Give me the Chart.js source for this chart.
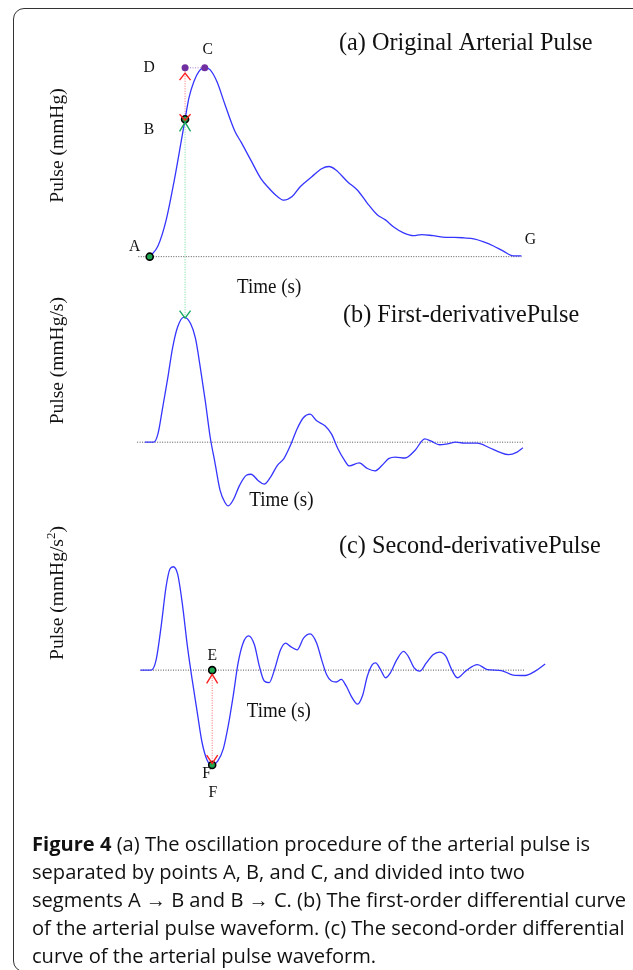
<!DOCTYPE html>
<html>
<head>
<meta charset="utf-8">
<script src="https://cdn.jsdelivr.net/npm/chart.js@4.4.1/dist/chart.umd.min.js"></script>
<style>
  html, body { margin: 0; padding: 0; background: #fff; }
  body { width: 633px; height: 970px; position: relative; overflow: hidden; }
  #frame { position: absolute; left: 13px; top: 8px; width: 660px; height: 962px;
           border: 1.5px solid #333; border-radius: 11px; }
  #plot { position: absolute; left: 0; top: 0; }
  #caption { position: absolute; left: 32px; top: 830px; font-family: "Open Sans", sans-serif;
             font-size: 20.1px; line-height: 28px; color: #111; white-space: nowrap; font-weight: 500; }
  #caption b { font-weight: 700; }
</style>
</head>
<body>
<div id="frame"></div>
<canvas id="plot" width="633" height="970"></canvas>
<div id="caption">
  <b>Figure 4</b> (a) The oscillation procedure of the arterial pulse is<br>
  separated by points A, B, and C, and divided into two<br>
  segments A → B and B → C. (b) The first-order differential curve<br>
  of the arterial pulse waveform. (c) The second-order differential<br>
  curve of the arterial pulse waveform.
</div>
<script>
// time in ms from point A
const timeA = [0, 21, 42, 62.5, 79, 90, 100, 112.5, 125, 140, 154, 171, 191.5, 216.5, 233, 258, 283, 304, 325, 341.5,
  362.5, 383, 412.5, 437.5, 456, 473, 504, 529, 554, 579, 600, 621, 646, 671, 691.5, 721, 754, 775, 800, 825,
  850, 875, 900, 925, 946];
const pulseA = [70, 72.7, 79.3, 89.3, 98.5, 104.75, 110.2, 114.3, 116.8, 117.8, 117.25, 114.3, 108.5, 101.8, 98.9, 94.3, 89.75, 87.25, 85.2, 84.3,
  85.2, 87.7, 90.2, 92.25, 92.8, 92, 88.9, 86.8, 83.5, 80.6, 79.3, 77.5, 76, 75.3, 75.6, 75.3, 74.9, 74.9, 74.75, 74.5,
  73.75, 72.7, 71.4, 70.2, 70.2];

const timeB = [-12.5, 10, 21, 33, 46, 58, 71, 87.5, 104, 116.5, 129, 141.5, 154, 166.5, 179, 191.5, 200, 212.5, 229, 246,
  258, 275, 291.5, 308, 325, 341.5, 358, 375, 391.5, 408, 425, 446, 462.5, 479, 496, 508, 533, 554, 573, 591.5,
  608, 625, 650, 675, 700, 716.5, 737.5, 758, 779, 800, 833.5, 864.5, 890, 913, 935, 950];
const pulseB = [0, 0, 42, 175, 325, 475, 583, 633, 600, 525, 375, 208, 25, -108, -242, -305, -322, -292, -217, -167,
  -162, -192, -212, -175, -117, -83, -17, 67, 125, 142, 108, 83, 42, -33, -92, -120, -105, -133, -145, -117,
  -83, -75, -80, -42, 17, 5, -13, -8, 0, -5, -5, -28, -50, -63, -50, -28];

const timeC = [-23.5, 4, 16.5, 29, 41.5, 51.5, 60, 71, 83, 96, 108, 121, 133, 146, 158, 173, 187.5, 200, 212.5, 225,
  237.5, 251.5, 266.5, 279, 291.5, 304, 316.5, 333, 346, 358, 375, 391.5, 408, 425, 437.5, 450, 462.5, 475, 487.5, 500,
  512.5, 529, 541.5, 554, 566.5, 575, 587.5, 600, 612.5, 629, 646, 658, 673, 687.5, 704, 721, 737.5, 754, 766.5, 783,
  804, 834, 859.5, 895, 925, 955.5, 981, 1006.5];
const pulseC = [0, 0, 106, 440, 840, 1023, 1046, 973, 673, 240, -94, -427, -727, -910, -960, -920, -794, -560, -260, 73,
  273, 346, 256, 40, -110, -127, -10, 206, 273, 240, 206, 323, 366, 273, 106, -44, -110, -120, -94, -160,
  -260, -344, -260, -60, 56, 73, 6, -77, -27, 106, 190, 140, 23, -10, 73, 156, 183, 140, 23, -77,
  -10, 56, 6, -4, -50, -54, -10, 63];

// dotted rest lines: [start, end] time, level
const baseTimeA = [-29, 946], baseLevelA = 70;
const baseTimeB = [-32, 950], baseLevelB = 0;
const baseTimeC = [-23.5, 955], baseLevelC = 0;

// marked points
const ptA = [0, 70], ptB = [90, 104.75], ptC = [140, 117.8], ptD = [90, 117.8];
const ptG = [946, 70.2];
const peakB = [87.5, 633];
const ptE = [159, 0], ptF = [159, -960];

const pairs = (xs, ys) => xs.map((x, i) => ({ x: x, y: ys[i] }));
const BLUE = "#3535ff";

function curve(xs, ys, axis) {
  return { data: pairs(xs, ys), yAxisID: axis, borderColor: BLUE, borderWidth: 1.3,
    pointRadius: 0, cubicInterpolationMode: "monotone", order: 2 };
}
function baseline(span, level, axis) {
  return { data: span.map((x) => ({ x: x, y: level })), yAxisID: axis, borderColor: "#555",
    borderWidth: 1, borderDash: [1, 1.5], pointRadius: 0, order: 3 };
}
function dots(pts, axis, fill, border) {
  return { data: pts.map((p) => ({ x: p[0], y: p[1] })), yAxisID: axis, showLine: false,
    pointRadius: 3.5, pointBackgroundColor: fill, pointBorderColor: border,
    pointBorderWidth: border === fill ? 0 : 1.6, order: 0 };
}

function serif(ctx, s, x, y, size, align) {
  ctx.save();
  ctx.translate(x, y);
  ctx.scale(0.95, 1);
  ctx.font = size + 'px "Liberation Serif"';
  ctx.textAlign = align || "left";
  ctx.textBaseline = "alphabetic";
  ctx.fillStyle = "#111";
  ctx.fillText(s, 0, 0);
  ctx.restore();
}

function vTitle(ctx, parts, x, cy) {
  ctx.save();
  ctx.translate(x, cy);
  ctx.rotate(-Math.PI / 2);
  ctx.fillStyle = "#111";
  let total = 0;
  parts.forEach((p) => { ctx.font = p.size + 'px "Liberation Serif"'; total += ctx.measureText(p.t).width; });
  let pos = -total / 2;
  parts.forEach((p) => {
    ctx.font = p.size + 'px "Liberation Serif"';
    ctx.fillText(p.t, pos, p.rise || 0);
    pos += ctx.measureText(p.t).width;
  });
  ctx.restore();
}

function dotted(ctx, x1, y1, x2, y2, color, w) {
  ctx.save();
  ctx.strokeStyle = color;
  ctx.lineWidth = w;
  ctx.setLineDash([1, 1.5]);
  ctx.beginPath();
  ctx.moveTo(x1, y1);
  ctx.lineTo(x2, y2);
  ctx.stroke();
  ctx.restore();
}

function arrow(ctx, x, y, dy, color) {
  ctx.save();
  ctx.strokeStyle = color;
  ctx.lineWidth = 1.4;
  ctx.beginPath();
  ctx.moveTo(x - 5.5, y + dy);
  ctx.lineTo(x, y);
  ctx.lineTo(x + 5.5, y + dy);
  ctx.stroke();
  ctx.restore();
}

const annotations = {
  id: "annotations",
  beforeDatasetsDraw(chart) {
    const ctx = chart.ctx, s = chart.scales;
    const X = (v) => s.x.getPixelForValue(v);
    dotted(ctx, X(ptB[0]), s.ya.getPixelForValue(ptB[1]), X(ptB[0]), s.yb.getPixelForValue(peakB[1]), "#7fe0a8", 1.2);
    dotted(ctx, X(ptB[0]), s.ya.getPixelForValue(ptB[1]), X(ptD[0]), s.ya.getPixelForValue(ptD[1]), "#ff6a6a", 1);
    dotted(ctx, X(ptD[0]), s.ya.getPixelForValue(ptD[1]), X(ptC[0]), s.ya.getPixelForValue(ptC[1]), "#c6a6e0", 1.5);
    dotted(ctx, X(ptE[0]), s.yc.getPixelForValue(ptE[1]), X(ptF[0]), s.yc.getPixelForValue(ptF[1]), "#ff6a6a", 1);
  },
  afterDatasetsDraw(chart) {
    const ctx = chart.ctx, s = chart.scales;
    const X = (v) => s.x.getPixelForValue(v);
    const bx = X(ptB[0]), by = s.ya.getPixelForValue(ptB[1]);
    arrow(ctx, X(ptD[0]), s.ya.getPixelForValue(ptD[1]) + 5.5, 7, "#ff2020");
    arrow(ctx, bx, by + 1, -6, "#ff2020");
    arrow(ctx, bx, by + 3, 9, "#1aa860");
    arrow(ctx, bx, s.yb.getPixelForValue(peakB[1]) + 1, -7.5, "#1aa860");
    arrow(ctx, X(ptE[0]), s.yc.getPixelForValue(ptE[1]) + 4.3, 9, "#ff2020");
    arrow(ctx, X(ptF[0]), s.yc.getPixelForValue(ptF[1]) - 1.6, -8.4, "#ff2020");
  },
  afterDraw(chart) {
    const ctx = chart.ctx, s = chart.scales;
    const X = (v) => s.x.getPixelForValue(v);
    const label = (t, p, axis, dx, dy) => serif(ctx, t, X(p[0]) + dx, s[axis].getPixelForValue(p[1]) + dy, 16.5, "center");
    label("A", ptA, "ya", -15, -6);
    label("B", ptB, "ya", -36, 15);
    label("D", ptD, "ya", -36, 4);
    label("C", ptC, "ya", 3, -13.4);
    label("G", ptG, "ya", 9, -11.6);
    label("E", ptE, "yc", 0, -10);
    label("F", ptF, "yc", -5.5, 13.4);
    label("F", ptF, "yc", 0.7, 31.7);

    serif(ctx, "(a) Original Arterial Pulse", 339, 50, 25.5);
    serif(ctx, "(b) First-derivativePulse", 343, 321.7, 25.5);
    serif(ctx, "(c) Second-derivativePulse", 339, 553, 25.5);
    serif(ctx, "Time (s)", 237, 293, 20);
    serif(ctx, "Time (s)", 249.3, 506, 20);
    serif(ctx, "Time (s)", 246.7, 716.7, 20);

    vTitle(ctx, [{ t: "Pulse (mmHg)", size: 19.5 }], 63, 145.5);
    vTitle(ctx, [{ t: "Pulse (mmHg/s)", size: 19.5 }], 63, 360.7);
    vTitle(ctx, [{ t: "Pulse (mmHg/s", size: 19.5 }, { t: "2", size: 13, rise: -8 }, { t: ")", size: 19.5 }], 63, 593);
  }
};

new Chart(document.getElementById("plot").getContext("2d"), {
  type: "line",
  data: {
    datasets: [
      baseline(baseTimeA, baseLevelA, "ya"),
      baseline(baseTimeB, baseLevelB, "yb"),
      baseline(baseTimeC, baseLevelC, "yc"),
      curve(timeA, pulseA, "ya"),
      curve(timeB, pulseB, "yb"),
      curve(timeC, pulseC, "yc"),
      dots([ptA, ptB], "ya", "#1fa84f", "#000"),
      dots([ptD, ptC], "ya", "#7030a0", "#7030a0"),
      dots([ptE, ptF], "yc", "#1fa84f", "#000")
    ]
  },
  options: {
    responsive: false,
    animation: false,
    events: [],
    layout: { padding: 0 },
    plugins: { legend: { display: false }, tooltip: { enabled: false } },
    scales: {
      x: { type: "linear", min: -366.75, max: 1215.75, display: false },
      ya: { type: "linear", min: -109, max: 133.5, display: false },
      yb: { type: "linear", min: -2641.5, max: 2208.5, display: false },
      yc: { type: "linear", min: -2977, max: 6723, display: false }
    }
  },
  plugins: [annotations]
});
</script>
</body>
</html>
